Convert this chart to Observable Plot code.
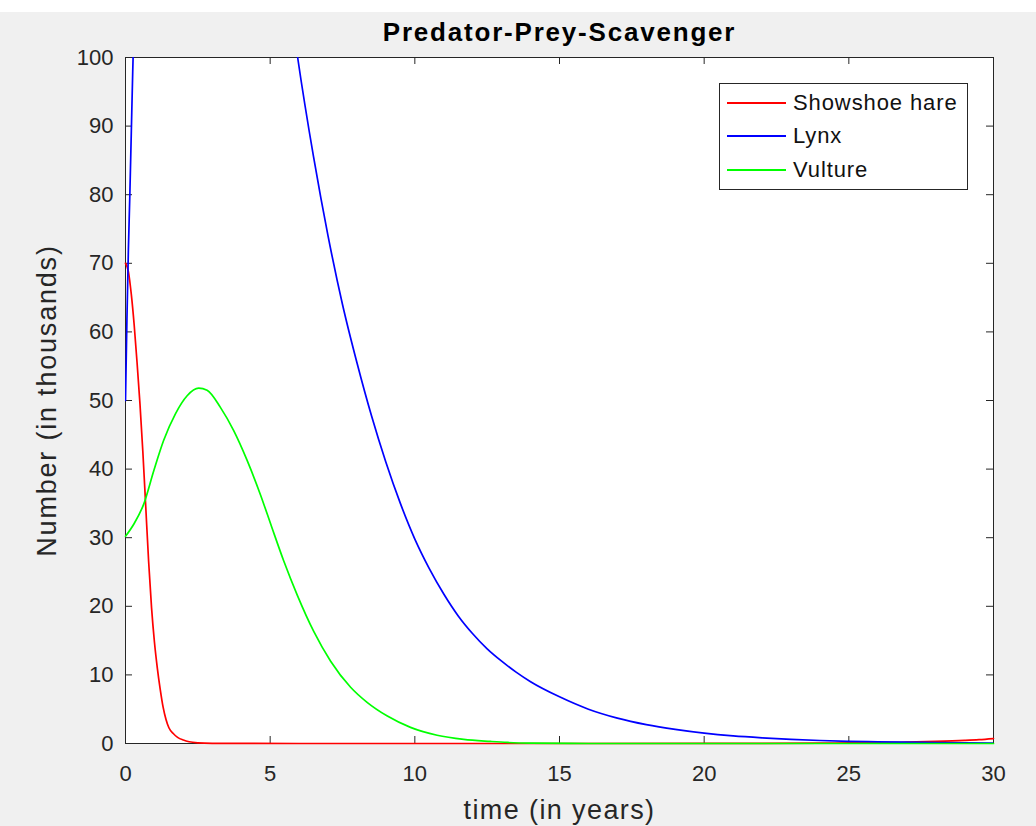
<!DOCTYPE html>
<html>
<head>
<meta charset="utf-8">
<script src="https://cdn.jsdelivr.net/npm/d3@7"></script>
<script src="https://cdn.jsdelivr.net/npm/@observablehq/plot@0.6"></script>
<style>
  html, body { margin: 0; padding: 0; }
  body { background: linear-gradient(#ffffff 0 12px, #f0f0f0 12px); width: 1036px; height: 826px; overflow: hidden; position: relative; font-family: "Liberation Sans", Arial, Helvetica, sans-serif; }
  #chart { position: absolute; left: 0; top: 0; }
  #legend { position: absolute; left: 719px; top: 83px; width: 249px; height: 107px; box-sizing: border-box; border: 1px solid #262626; background: #fff; }
  #legend .sw { position: absolute; left: 7px; width: 59px; height: 2px; }
  #legend .lb { position: absolute; left: 73px; font-size: 22px; line-height: 22px; color: #111; white-space: nowrap; letter-spacing: 0.9px; }
</style>
</head>
<body>
<div id="chart"></div>
<div id="legend"></div>
<script>
// ---- data ----
const titleText = "Predator-Prey-Scavenger";
const xLabel = "time (in years)";
const yLabel = "Number (in thousands)";
const seriesNames = ["Showshoe hare", "Lynx", "Vulture"];
const seriesColors = ["#ff0000", "#0000ff", "#00ff00"];
const xTicks = [0, 5, 10, 15, 20, 25, 30];
const yTicks = [0, 10, 20, 30, 40, 50, 60, 70, 80, 90, 100];

// Showshoe hare
const hareT = [0, 0.1, 0.2, 0.3, 0.4, 0.5, 0.6, 0.7, 0.8, 0.9, 1.0, 1.1, 1.2, 1.3, 1.4, 1.5, 1.65, 1.8, 2.0, 2.2, 2.5, 3, 4, 6, 10, 15, 20, 22, 24, 25, 26, 27, 28, 29, 29.5, 30];
const hareV = [70, 68.8, 65.5, 61, 55.5, 49.5, 42.5, 34.5, 26.5, 19.8, 14.8, 11.0, 7.9, 5.3, 3.5, 2.3, 1.45, 0.9, 0.5, 0.25, 0.1, 0.03, 0.01, 0, 0, 0, 0.01, 0.025, 0.06, 0.09, 0.13, 0.2, 0.3, 0.45, 0.56, 0.72];

// Lynx (values above 100 are outside the visible window)
const lynxT = [0, 0.05, 0.1, 0.15, 0.2, 0.25, 0.3, 0.5, 1, 2, 3, 4, 5, 5.5, 5.95, 6.5, 7, 7.5, 8, 8.5, 9, 9.5, 10, 10.5, 11, 11.5, 12, 12.5, 13, 13.5, 14, 15, 16, 17, 18, 19, 20, 21, 22, 23, 24, 25, 26, 28, 30];
const lynxV = [50, 62, 72, 80, 89, 98, 106, 125, 150, 172, 178, 165, 131, 114, 100, 85.5, 74, 64, 55.5, 47.8, 41, 35, 29.8, 25.5, 21.8, 18.6, 16, 13.8, 12, 10.4, 9.0, 6.8, 5.0, 3.7, 2.75, 2.05, 1.5, 1.1, 0.82, 0.6, 0.44, 0.32, 0.24, 0.13, 0.07];

// Vulture
const vultT = [0, 0.29, 0.63, 0.98, 1.32, 1.73, 2.13, 2.53, 2.82, 3.28, 3.74, 4.2, 4.67, 5.05, 5.47, 5.94, 6.51, 7.09, 7.78, 8.35, 9.05, 9.85, 10.77, 11.69, 12.62, 13.2, 14, 16, 20, 25, 30];
const vultV = [30.2, 32, 34.9, 39.8, 44.2, 48.1, 50.7, 51.8, 51.5, 49, 45.6, 41.3, 36.2, 31.6, 26.6, 21.6, 16.3, 12.0, 8.2, 6.0, 4.0, 2.35, 1.2, 0.6, 0.3, 0.15, 0.05, 0, 0, 0, 0];

const toRows = (ts, vs) => ts.map((t, i) => ({t, v: vs[i]}));
const hare = toRows(hareT, hareV);
const lynx = toRows(lynxT, lynxV);
const vult = toRows(vultT, vultV);

const axisColor = "#262626";
const plot = Plot.plot({
  width: 1036,
  height: 826,
  marginLeft: 125,
  marginRight: 43,
  marginTop: 57,
  marginBottom: 83,
  style: { background: "transparent", fontFamily: "'Liberation Sans', Arial, Helvetica, sans-serif", fontSize: "22px", color: axisColor },
  x: { domain: [0, 30], ticks: xTicks, tickSize: 0, tickPadding: 22, label: null, tickFormat: d => String(d) },
  y: { domain: [0, 100], ticks: yTicks, tickSize: 0, tickPadding: 12, label: null, tickFormat: d => String(d) },
  marks: [
    Plot.frame({ fill: "#ffffff", stroke: null }),
    Plot.ruleX(xTicks, { insetTop: 679, stroke: axisColor }),
    Plot.ruleX(xTicks, { insetBottom: 679, stroke: axisColor }),
    Plot.ruleY(yTicks, { insetRight: 861, stroke: axisColor }),
    Plot.ruleY(yTicks, { insetLeft: 861, stroke: axisColor }),
    Plot.frame({ stroke: axisColor, strokeWidth: 1 }),
    Plot.line(hare, { x: "t", y: "v", stroke: seriesColors[0], strokeWidth: 1.7, curve: "monotone-x" }),
    Plot.line(lynx, { x: "t", y: "v", stroke: seriesColors[1], strokeWidth: 1.7, curve: "monotone-x", clip: true }),
    Plot.line(vult, { x: "t", y: "v", stroke: seriesColors[2], strokeWidth: 1.7, curve: "monotone-x" }),
    Plot.text([titleText], { text: d => d, frameAnchor: "top", lineAnchor: "middle", textAnchor: "middle", dy: -25, fontWeight: "bold", fontSize: 26, fill: "#000" }),
    Plot.text([xLabel], { text: d => d, frameAnchor: "bottom", lineAnchor: "middle", textAnchor: "middle", dy: 67, fontSize: 27, fill: axisColor }),
    Plot.text([yLabel], { text: d => d, frameAnchor: "left", lineAnchor: "middle", textAnchor: "middle", dx: -78, rotate: -90, fontSize: 27, fill: axisColor })
  ]
});
document.getElementById("chart").appendChild(plot);

// widen the label / title lettering to match the reference rendering
d3.select(plot).selectAll("text").each(function () {
  const t = this.textContent;
  if (t === titleText) this.style.letterSpacing = "1.8px";
  else if (t === xLabel) this.style.letterSpacing = "1.4px";
  else if (t === yLabel) this.style.letterSpacing = "1.8px";
});

// legend (HTML overlay)
const rowY = [19, 52, 86];
const leg = d3.select("#legend");
seriesNames.forEach((name, i) => {
  leg.append("div").attr("class", "sw").style("top", (rowY[i] - 1) + "px").style("background", seriesColors[i]);
  leg.append("div").attr("class", "lb").style("top", (rowY[i] - 11) + "px").text(name);
});
</script>
</body>
</html>
